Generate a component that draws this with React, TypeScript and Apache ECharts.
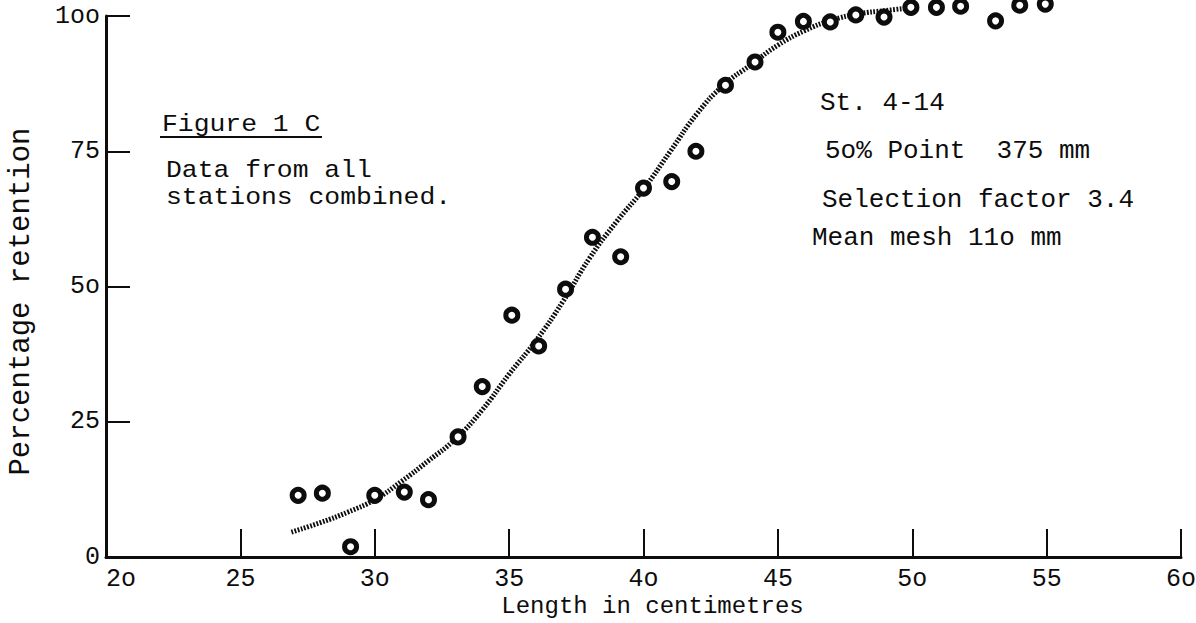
import React, { useEffect, useRef } from "react";
import * as echarts from "echarts";

// Observed retention points (length cm, % retained)
const pointLengths = [27.15, 28.05, 29.1, 30.0, 31.1, 32.0, 33.1, 34.0, 35.1, 36.1, 37.1, 38.1, 39.15, 40.0, 41.05, 41.95, 43.05, 44.15, 45.0, 45.95, 46.95, 47.9, 48.95, 49.95, 50.9, 51.8, 53.1, 54.0, 54.95];
const pointRetention = [11.4, 11.8, 1.9, 11.4, 12.0, 10.6, 22.2, 31.5, 44.7, 39.0, 49.5, 59.1, 55.5, 68.2, 69.4, 75.0, 87.2, 91.5, 97.0, 99.0, 98.9, 100.2, 99.8, 101.6, 101.6, 101.8, 99.1, 102.0, 102.2];

// Fitted selection curve
const curveLengths = [26.9, 28, 29, 30, 31, 32, 33, 34, 35, 36, 37, 38, 39, 40, 41, 42, 43, 44, 45, 46, 47, 48, 49, 49.9];
const curveRetention = [4.6, 6.4, 8.3, 10.6, 14.0, 17.8, 21.8, 27.2, 33.8, 40.0, 47.2, 55.3, 62.0, 68.0, 75.0, 82.0, 87.3, 91.0, 94.6, 97.3, 99.2, 100.4, 101.0, 101.5];

const xTicks = [20, 25, 30, 35, 40, 45, 50, 55, 60];
const xTickLabels = ["2o", "25", "3o", "35", "4o", "45", "5o", "55", "6o"];
const yTicks = [0, 25, 50, 75, 100];
const yTickLabels = ["0", "25", "5o", "75", "1oo"];

const xTitle = "Length in centimetres";
const yTitle = "Percentage retention";
const figureTitle = "Figure 1 C";
const leftNotes = ["Data from all", "stations combined."];
const rightNotes = ["St. 4-14", "5o% Point  375 mm", "Selection factor 3.4", "Mean mesh 11o mm"];

const FONT = "'Liberation Mono', 'DejaVu Sans Mono', monospace";
const INK = "#0d0d0d";

export default function App() {
  const ref = useRef<HTMLDivElement>(null);

  useEffect(() => {
    if (!ref.current) return;
    const chart = echarts.init(ref.current, undefined, { renderer: "svg" });

    const points = pointLengths.map((x, i) => [x, pointRetention[i]]);
    const curve = curveLengths.map((x, i) => [x, curveRetention[i]]);

    const leftText = (text: string, x: number, y: number) => ({
      type: "text",
      x,
      y,
      scaleX: 1.1,
      style: { text, font: `24px ${FONT}`, fill: INK, align: "left", verticalAlign: "middle" },
    });
    const rightText = (text: string, x: number, y: number) => ({
      type: "text",
      x,
      y,
      scaleX: 1.04,
      style: { text, font: `25px ${FONT}`, fill: INK, align: "left", verticalAlign: "middle" },
    });

    chart.setOption({
      animation: false,
      backgroundColor: "#ffffff",
      grid: { left: 106, right: 15, top: 16, bottom: 66, containLabel: false, outerBoundsMode: "none" },
      xAxis: {
        type: "value",
        min: 20,
        max: 60,
        interval: 5,
        name: xTitle,
        nameLocation: "middle",
        nameGap: 37,
        nameMoveOverlap: false,
        nameTextStyle: { fontFamily: FONT, fontSize: 24, lineHeight: 24, color: INK, padding: [0, 0, 0, 18] },
        axisLine: { show: true, onZero: false, lineStyle: { color: INK, width: 3 } },
        axisTick: { show: true, inside: true, length: 28, lineStyle: { color: INK, width: 2 } },
        axisLabel: {
          fontFamily: FONT,
          fontSize: 25,
          lineHeight: 24,
          color: INK,
          margin: 10,
          alignMinLabel: "left",
          formatter: (v: number) => xTickLabels[xTicks.indexOf(v)] ?? "",
        },
        splitLine: { show: false },
      },
      yAxis: {
        type: "value",
        min: 0,
        max: 100,
        interval: 25,
        name: yTitle,
        nameLocation: "middle",
        nameRotate: 90,
        nameGap: 70,
        nameMoveOverlap: false,
        nameTextStyle: { fontFamily: FONT, fontSize: 29, color: INK, padding: [0, 30, 0, 0] },
        axisLine: { show: true, onZero: false, lineStyle: { color: INK, width: 3 } },
        axisTick: { show: true, inside: true, length: 24, lineStyle: { color: INK, width: 2 } },
        axisLabel: {
          fontFamily: FONT,
          fontSize: 25,
          color: INK,
          margin: 6,
          formatter: (v: number) => yTickLabels[yTicks.indexOf(v)] ?? "",
        },
        splitLine: { show: false },
      },
      series: [
        {
          type: "line",
          data: curve,
          smooth: true,
          clip: false,
          symbol: "none",
          lineStyle: { color: INK, width: 5, type: [1.8, 1.5], cap: "butt" },
          z: 2,
        },
        {
          type: "scatter",
          data: points,
          clip: false,
          symbol: "circle",
          symbolSize: 12,
          itemStyle: { color: "#ffffff", borderColor: INK, borderWidth: 5, opacity: 1 },
          z: 3,
        },
      ],
      graphic: [
        leftText(figureTitle, 162, 125),
        { type: "line", shape: { x1: 160, y1: 137, x2: 322, y2: 137 }, style: { stroke: INK, lineWidth: 2 } },
        leftText(leftNotes[0], 166, 171),
        leftText(leftNotes[1], 166, 198),
        rightText(rightNotes[0], 820, 104),
        rightText(rightNotes[1], 825, 152),
        rightText(rightNotes[2], 822, 201),
        rightText(rightNotes[3], 812, 239),
      ],
    });

    return () => chart.dispose();
  }, []);

  return (
    <div
      ref={ref}
      style={{ position: "absolute", left: 0, top: 0, width: 1196, height: 623, background: "#fff" }}
    />
  );
}
